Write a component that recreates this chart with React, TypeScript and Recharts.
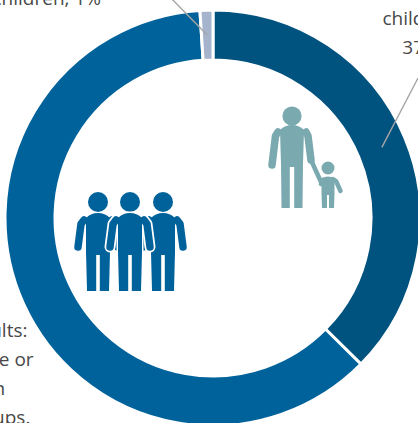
import React from "react";
import { PieChart, Pie, Cell } from "recharts";

const groups = ["Adults with children", "Adults alone or in groups", "Unaccompanied children"];
const shares = [37.4, 61.6, 1];
const colours = ["#00527f", "#00629b", "#a5b4cc"];
const labelLines = [
  ["children:", "37%"],
  ["Adults:", "alone or", "in", "groups."],
  ["Unaccompanied", "children, 1%"],
];

const rows = groups.map((name, i) => ({ name, value: shares[i] }));
const FONT = "'Open Sans', sans-serif";
const RAD = Math.PI / 180;

const textBoxes = [
  { x: 421, y: 25, anchor: "middle" },
  { x: -3, y: 337, anchor: "middle" },
  { x: 101, y: 5 - 29, anchor: "end" },
];
const leaderEnds = [[418, 78], null, [163, -10]];

function renderLabel(p: any) {
  const i = p.index;
  const box = textBoxes[i];
  const end = leaderEnds[i];
  const mid = (p.innerRadius + p.outerRadius) / 2;
  const sx = p.cx + mid * Math.cos(-p.midAngle * RAD);
  const sy = p.cy + mid * Math.sin(-p.midAngle * RAD);
  return (
    <g key={i}>
      {end && <line x1={sx} y1={sy} x2={end[0]} y2={end[1]} stroke="#a6a6a6" strokeWidth={1.4} />}
      <text fontFamily={FONT} fontSize={19} fill="#484848" textAnchor={box.anchor as any}>
        {labelLines[i].map((t, k) => (
          <tspan key={k} x={box.x} y={box.y + k * 29}>{t}</tspan>
        ))}
      </text>
    </g>
  );
}

function Person({ x, y, fill, outline }: { x: number; y: number; fill: string; outline?: boolean }) {
  const body = "M-12,3 Q-7,-2 0,-2 Q7,-2 12,3 L12,37 L11,76 L1.8,76 L1.8,40 L-1.8,40 L-1.8,76 L-11,76 L-12,37 Z";
  const armL = "M-14,5 L-17,9 L-20,32";
  const armR = "M14,5 L17,9 L20,32";
  return (
    <g transform={`translate(${x},${y})`}>
      <circle cx={0} cy={-13} r={10} fill={fill} />
      {outline && (
        <g fill="none" stroke="#fff" strokeWidth={11} strokeLinecap="round" strokeLinejoin="round">
          <path d={armL} />
          <path d={armR} />
        </g>
      )}
      {outline && <path d={body} fill={fill} stroke="#fff" strokeWidth={3} />}
      <path d={body} fill={fill} />
      <g fill="none" stroke={fill} strokeWidth={7.5} strokeLinecap="round" strokeLinejoin="round">
        <path d={armL} />
        <path d={armR} />
      </g>
    </g>
  );
}

function Parent({ x, y, fill }: { x: number; y: number; fill: string }) {
  const body = "M-12,3 Q-7,-2 0,-2 Q7,-2 12,3 L11,37 L10.5,81 L2.2,81 L2.2,40 L-2.2,40 L-2.2,81 L-10.5,81 L-11,37 Z";
  return (
    <g transform={`translate(${x},${y})`}>
      <circle cx={0} cy={-11} r={9.6} fill={fill} />
      <path d={body} fill={fill} />
      <g fill="none" stroke={fill} strokeWidth={7.5} strokeLinecap="round" strokeLinejoin="round">
        <path d="M-14,5 L-16.5,9 L-20,38" />
        <path d="M14,5 L16,9 L19,33" />
      </g>
      <path d="M19,33 L29,55" fill="none" stroke={fill} strokeWidth={4.5} strokeLinecap="round" />
    </g>
  );
}

function Child({ x, y, fill }: { x: number; y: number; fill: string }) {
  const body = "M-6.5,1 Q0,-2 6.5,1 L6.5,16 L6,31 L1,31 L1,18 L-1,18 L-1,31 L-6,31 L-6.5,16 Z";
  return (
    <g transform={`translate(${x},${y})`}>
      <circle cx={0} cy={-9} r={6.5} fill={fill} />
      <path d={body} fill={fill} />
      <g fill="none" stroke={fill} strokeWidth={4.5} strokeLinecap="round" strokeLinejoin="round">
        <path d="M-5,3 L-7,7" />
        <path d="M5,2 L8,4 L12.5,14" />
      </g>
    </g>
  );
}

export default function App() {
  return (
    <div style={{ position: "fixed", left: 0, top: 0, width: 418, height: 423, overflow: "hidden", background: "#fff" }}>
      <PieChart width={418} height={423} margin={{ top: 0, right: 0, bottom: 0, left: 0 }}>
        <Pie
          data={rows}
          dataKey="value"
          nameKey="name"
          cx={213}
          cy={218}
          innerRadius={158}
          outerRadius={208}
          startAngle={90}
          endAngle={-270}
          stroke="#fff"
          strokeWidth={3}
          label={renderLabel}
          labelLine={false}
          isAnimationActive={false}
        >
          {rows.map((r, i) => (
            <Cell key={r.name} fill={colours[i]} />
          ))}
        </Pie>
        <Parent x={292} y={127} fill="#7aa9b0" />
        <Child x={328} y={177} fill="#7aa9b0" />
        <Person x={98} y={215} fill="#00629b" />
        <Person x={163} y={215} fill="#00629b" />
        <Person x={130} y={215} fill="#00629b" outline />
      </PieChart>
    </div>
  );
}
